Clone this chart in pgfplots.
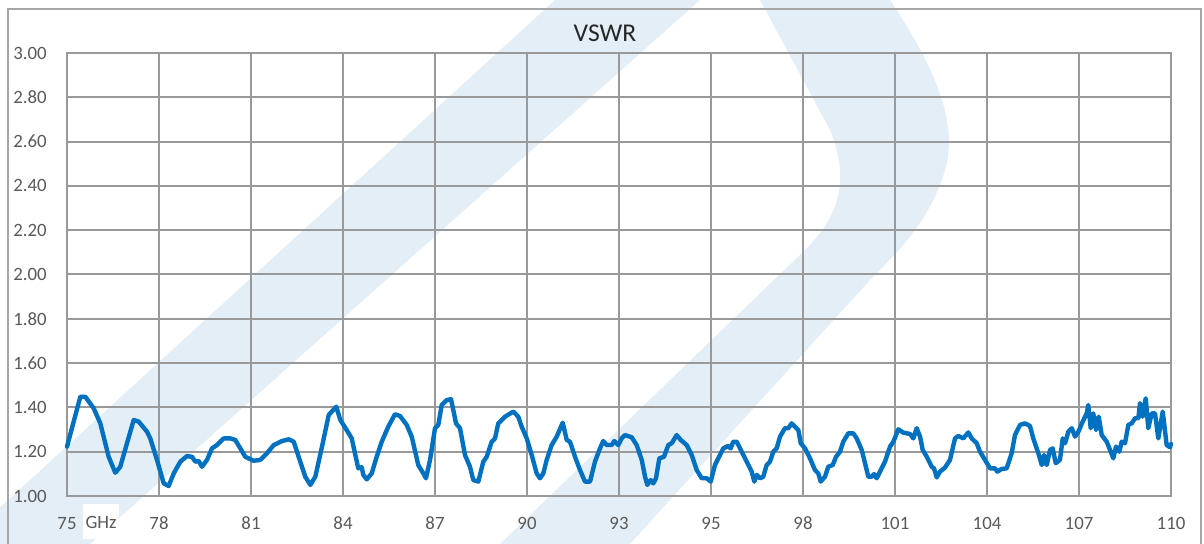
\documentclass[border=0pt]{standalone}
\usepackage{pgfplots}
\pgfplotsset{compat=1.18}
\usepackage{fontspec}
\setmainfont{Carlito}

\definecolor{vswrblue}{HTML}{0070C0}
\definecolor{gridgray}{HTML}{999999}
\definecolor{labelgray}{HTML}{595959}
\definecolor{framegray}{HTML}{A6A6A6}
\definecolor{wmark}{HTML}{E4EEF6}

\begin{document}
\begin{tikzpicture}
% page = 1204 x 544 px at 0.5pt/px
\clip (0,0) rectangle (602pt,272pt);
\path[use as bounding box] (0,0) rectangle (602pt,272pt);

% faint logo watermark behind the chart (px coordinates, y down)
\begin{scope}[x=0.5pt,y=-0.5pt,yshift=272pt]
  \fill[wmark] (-40,544) -- (90,544) -- (700,0) -- (555,0) -- cycle;
  \fill[wmark] (760,0) -- (890,0) .. controls (930,60) and (960,120) .. (945,170)
     .. controls (930,220) and (900,250) .. (870,280) -- (630,544) -- (500,544)
     -- (805,250) .. controls (840,215) and (850,180) .. (830,130) -- cycle;
\end{scope}

% outer chart frame
\draw[framegray, line width=0.8pt] (4pt,-5pt) rectangle (600.5pt,267.5pt);

\node[text=black!85, font=\fontsize{12.8}{14}\selectfont] at (302.5pt,255.5pt) {VSWR};

\begin{axis}[
  at={(33.5pt,24pt)}, anchor=south west,
  scale only axis, width=552pt, height=221.5pt,
  xmin=0, xmax=12, ymin=1, ymax=3,
  xtick={0,1,2,3,4,5,6,7,8,9,10,11,12},
  xticklabels={75,78,81,84,87,90,93,95,98,101,104,107,110},
  ytick={1,1.2,1.4,1.6,1.8,2,2.2,2.4,2.6,2.8,3},
  yticklabel style={/pgf/number format/.cd, fixed, fixed zerofill, precision=2,
     /tikz/.cd, anchor=west, inner sep=0pt, xshift=-27pt},
  xticklabel style={anchor=north, inner sep=0pt, yshift=-10.3pt},
  /pgf/number format/assume math mode=true,
  ticklabel style={text=labelgray, font=\fontsize{9.4}{11}\selectfont},
  major tick length=0pt,
  grid=major,
  major grid style={draw=gridgray, line width=1pt},
  axis line style={draw=gridgray, line width=1pt},
  clip=false,
]
\addplot[vswrblue, line width=2.2pt, line join=round, line cap=round] coordinates {
(0,1.223) (0.145,1.448) (0.199,1.448) (0.290,1.396) (0.362,1.328) (0.453,1.177)
(0.525,1.105) (0.579,1.132) (0.652,1.238) (0.725,1.343) (0.779,1.336) (0.870,1.290)
(0.905,1.260) (0.978,1.163) (1.051,1.057) (1.105,1.045) (1.160,1.102) (1.232,1.155)
(1.304,1.180) (1.359,1.177) (1.395,1.155) (1.432,1.158) (1.467,1.132) (1.522,1.163)
(1.576,1.215) (1.630,1.230) (1.703,1.260) (1.775,1.260) (1.829,1.253) (1.884,1.215)
(1.938,1.177) (2.029,1.159) (2.101,1.163) (2.174,1.193) (2.247,1.230) (2.337,1.248)
(2.410,1.256) (2.464,1.245) (2.518,1.177) (2.590,1.087) (2.645,1.050) (2.699,1.087)
(2.772,1.223) (2.845,1.366) (2.927,1.403) (2.971,1.343) (3.040,1.298) (3.095,1.260)
(3.130,1.193) (3.166,1.125) (3.203,1.130) (3.221,1.095) (3.258,1.075) (3.312,1.102)
(3.366,1.177) (3.421,1.245) (3.492,1.313) (3.565,1.369) (3.620,1.361) (3.692,1.321)
(3.747,1.268) (3.818,1.140) (3.873,1.102) (3.902,1.080) (3.946,1.163) (4.000,1.306)
(4.036,1.321) (4.073,1.411) (4.127,1.433) (4.174,1.437) (4.199,1.388) (4.228,1.328)
(4.272,1.306) (4.326,1.185) (4.380,1.132) (4.416,1.072) (4.471,1.065) (4.525,1.155)
(4.562,1.177) (4.616,1.245) (4.652,1.260) (4.688,1.328) (4.761,1.358) (4.851,1.381)
(4.905,1.358) (4.942,1.313) (4.997,1.260) (5.051,1.185) (5.105,1.102) (5.141,1.080)
(5.177,1.102) (5.214,1.163) (5.268,1.230) (5.323,1.268) (5.388,1.331) (5.432,1.253)
(5.467,1.245) (5.522,1.177) (5.576,1.117) (5.630,1.065) (5.685,1.065) (5.739,1.155)
(5.793,1.215) (5.829,1.248) (5.866,1.230) (5.921,1.230) (5.949,1.248) (5.992,1.230)
(6.029,1.260) (6.065,1.275) (6.138,1.265) (6.192,1.230) (6.247,1.163) (6.283,1.087)
(6.308,1.050) (6.345,1.072) (6.373,1.057) (6.402,1.080) (6.438,1.170) (6.489,1.177)
(6.536,1.230) (6.573,1.238) (6.627,1.275) (6.671,1.253) (6.736,1.230) (6.790,1.185)
(6.845,1.117) (6.899,1.080) (6.953,1.080) (6.997,1.065) (7.043,1.140) (7.079,1.170)
(7.134,1.215) (7.188,1.226) (7.214,1.215) (7.242,1.245) (7.279,1.245) (7.334,1.200)
(7.388,1.155) (7.442,1.110) (7.471,1.065) (7.497,1.095) (7.533,1.080) (7.568,1.087)
(7.605,1.140) (7.641,1.155) (7.677,1.200) (7.714,1.215) (7.750,1.268) (7.804,1.306)
(7.840,1.306) (7.877,1.328) (7.913,1.313) (7.949,1.298) (7.975,1.238) (8.022,1.215)
(8.076,1.170) (8.130,1.117) (8.166,1.102) (8.192,1.065) (8.239,1.087) (8.275,1.132)
(8.323,1.140) (8.359,1.177) (8.402,1.200) (8.438,1.245) (8.492,1.283) (8.546,1.283)
(8.584,1.260) (8.638,1.208) (8.674,1.148) (8.710,1.087) (8.747,1.087) (8.772,1.099)
(8.801,1.080) (8.837,1.110) (8.891,1.155) (8.946,1.223) (8.982,1.245) (9.036,1.301)
(9.090,1.286) (9.163,1.280) (9.199,1.260) (9.236,1.306) (9.272,1.268) (9.301,1.208)
(9.345,1.177) (9.399,1.132) (9.424,1.125) (9.453,1.084) (9.489,1.110) (9.543,1.128)
(9.598,1.163) (9.652,1.260) (9.688,1.271) (9.742,1.260) (9.797,1.287) (9.834,1.260)
(9.888,1.238) (9.924,1.200) (9.978,1.163) (10.033,1.125) (10.087,1.125) (10.112,1.110)
(10.160,1.122) (10.214,1.125) (10.268,1.193) (10.304,1.275) (10.359,1.321) (10.413,1.328)
(10.467,1.316) (10.503,1.260) (10.558,1.193) (10.595,1.140) (10.620,1.185) (10.649,1.140)
(10.685,1.208) (10.714,1.215) (10.747,1.148) (10.793,1.163) (10.823,1.260) (10.848,1.238)
(10.884,1.290) (10.921,1.306) (10.957,1.268) (10.993,1.290) (11.040,1.336) (11.084,1.373)
(11.101,1.411) (11.127,1.306) (11.155,1.373) (11.185,1.298) (11.214,1.358) (11.247,1.275)
(11.301,1.245) (11.345,1.200) (11.373,1.170) (11.402,1.223) (11.438,1.200) (11.464,1.245)
(11.500,1.238) (11.536,1.321) (11.573,1.328) (11.609,1.351) (11.645,1.351) (11.663,1.419)
(11.692,1.358) (11.725,1.441) (11.753,1.306) (11.790,1.373) (11.826,1.373) (11.862,1.260)
(11.910,1.381) (11.953,1.230) (11.989,1.220) (12.000,1.235)
};
\end{axis}

% unit label sitting on a white patch beside the first tick label
\node[fill=white, inner sep=0pt, minimum width=18pt, minimum height=17.5pt,
      text=labelgray, font=\fontsize{9.4}{11}\selectfont] at (50.5pt,11pt) {GHz};
\end{tikzpicture}
\end{document}
